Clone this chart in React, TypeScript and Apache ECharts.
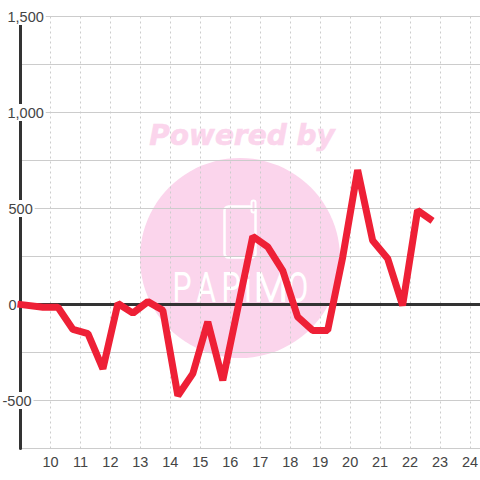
import React, { useEffect, useRef } from "react";
import * as echarts from "echarts";

const hours = [8.9, 9.75, 10.25, 10.75, 11.25, 11.75, 12.25, 12.75, 13.25, 13.75, 14.25, 14.75, 15.25, 15.75, 16.25, 16.75, 17.25, 17.75, 18.25, 18.75, 19.25, 19.75, 20.25, 20.75, 21.25, 21.75, 22.25, 22.75];
const values = [2, -14, -14, -130, -152, -335, 5, -45, 15, -30, -475, -360, -90, -395, -20, 355, 300, 177, -65, -135, -135, 245, 700, 333, 240, -5, 490, 435];
const yLabels: Record<string, string> = { "1500": "1,500", "1000": "1,000", "500": "500", "0": "0", "-500": "-500" };
const logoLetters = ["P", "A", "P", "i", "M", "O"];
const logoCenters = [182, 206, 231, 248, 271, 298];

export default function App() {
  const ref = useRef<HTMLDivElement>(null);
  useEffect(() => {
    document.body.style.margin = "0";
    const chart = echarts.init(ref.current!, undefined, { renderer: "svg" });
    const wm = "#fbd5ec";
    const white = "#ffffff";
    chart.setOption({
      animation: false,
      backgroundColor: "#ffffff",
      textStyle: { fontFamily: "Liberation Sans" },
      grid: { left: 20.5, right: 0, top: 16.5, bottom: 31.5, outerBoundsMode: "none", containLabel: false },
      xAxis: {
        type: "value", min: 9, max: 24.333, interval: 1, position: "bottom",
        axisLine: { show: false, onZero: false },
        axisTick: { show: false },
        splitLine: { show: true, showMinLine: false, showMaxLine: false, lineStyle: { color: "#cccccc", width: 1, type: [2, 3] } },
        axisLabel: {
          margin: 6, fontSize: 14.5, color: "#444444", showMinLabel: false, showMaxLabel: false,
          formatter: (v: number) => (Number.isInteger(v) ? String(v) : ""),
        },
      },
      yAxis: {
        type: "value", min: -750, max: 1500, interval: 250,
        axisLine: { show: true, onZero: false, lineStyle: { color: "#333333", width: 3 } },
        axisTick: { show: false },
        splitLine: { show: true, lineStyle: { color: "#cccccc", width: 1 } },
        axisLabel: {
          inside: true, margin: -20, align: "left", fontSize: 14.5, color: "#444444",
          formatter: (v: number) => {
            const k = String(v);
            if (!yLabels[k]) return "";
            if (k === "0") return "{z|0}";
            if (k === "500") return "{m|500}";
            if (k === "-500") return "{n|-500}";
            return "{l|" + yLabels[k] + "}";
          },
          rich: {
            l: { fontSize: 14.5, color: "#444444", backgroundColor: "#ffffff", padding: [1, 2, 1, 7] },
            m: { fontSize: 14.5, color: "#444444", backgroundColor: "#ffffff", padding: [1, 2, 1, 8] },
            n: { fontSize: 14.5, color: "#444444", backgroundColor: "#ffffff", padding: [1, 2, 1, 2] },
            z: { fontSize: 14.5, color: "#444444", padding: [1, 2, 1, 8] },
          },
        },
        z: 3,
      },
      series: [
        {
          type: "line", showSymbol: false, symbol: "none", z: 1, data: [],
          markLine: {
            silent: true, symbol: "none", label: { show: false },
            lineStyle: { color: "#333333", width: 3, type: "solid" },
            data: [{ yAxis: 0 }],
          },
        },
        {
          type: "line", showSymbol: false, symbol: "none", clip: false, z: 5,
          lineStyle: { color: "#ee2036", width: 7, cap: "butt", join: "bevel" },
          data: hours.map((h, i) => [h, values[i]]),
        },
      ],
      graphic: {
        elements: [
          { type: "circle", z: -10, shape: { cx: 240, cy: 258, r: 100 }, style: { fill: wm }, silent: true },
          { type: "text", z: -10, x: 242, y: 135, style: { text: "Powered by", fill: wm, stroke: wm, lineWidth: 0.6, font: "italic bold 28px 'DejaVu Sans'", textAlign: "center", textVerticalAlign: "middle" }, silent: true },
          { type: "rect", z: -9, shape: { x: 224.5, y: 206.5, width: 31, height: 51, r: 4 }, style: { fill: "none", stroke: white, lineWidth: 2.5 }, silent: true },
          { type: "rect", z: -9, shape: { x: 251.5, y: 200.5, width: 4, height: 12, r: 2 }, style: { fill: wm, stroke: white, lineWidth: 2 }, silent: true },
          ...logoLetters.map((ch, i) => ({
            type: "text", z: -9, silent: true, x: logoCenters[i], y: 288, scaleX: ch === "M" ? 0.95 : 0.72,
            style: { text: ch, fill: white, font: "400 42px Roboto", textAlign: "center", textVerticalAlign: "middle" },
          })),
        ],
      },
    });
    return () => chart.dispose();
  }, []);
  return <div ref={ref} style={{ width: 480, height: 480 }} />;
}
